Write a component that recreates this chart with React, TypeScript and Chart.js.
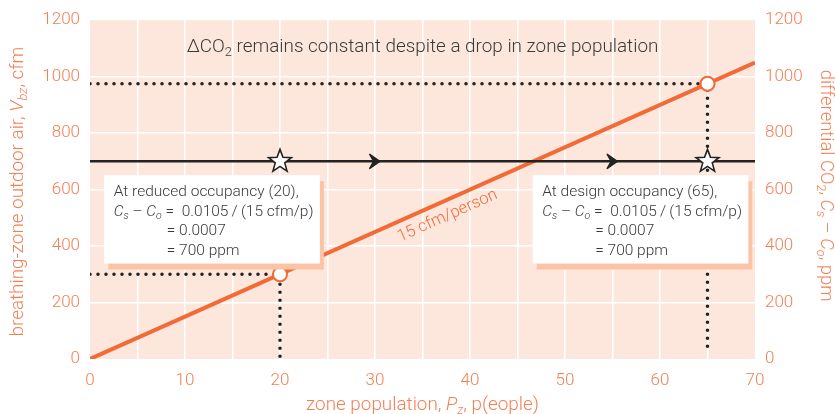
import React, { useEffect, useRef } from 'react';
import { Chart, registerables } from 'chart.js';
Chart.register(...registerables);

// ---------- data ----------
const xTickValues = [0, 10, 20, 30, 40, 50, 60, 70];
const yTickValues = [0, 200, 400, 600, 800, 1000, 1200];
const rateLineX = [0, 70];
const rateLineY = [0, 1050];
const co2LineX = [0, 70];
const co2LineY = [700, 700];
const arrowTipX = [30.5, 55.5];
const starX = [20, 65];
const starY = [700, 700];
const occupancyX = [20, 65];
const airflowY = [300, 975];
const reducedGuideX = [0, 20, 20];
const reducedGuideY = [300, 300, 0];
const designGuideX = [0, 65, 65];
const designGuideY = [975, 975, 30];
const boxTitles = ['At reduced occupancy (20),', 'At design occupancy (65),'];
const boxLeftX = [1.5, 46.6];
const boxRightX = [24.2, 69.3];
const boxTopY = [651, 651];
const boxBottomY = [338, 338];
const rateLabel = '15 cfm/person';
const rateLabelX = 37;
const titleText = ' remains constant despite a drop in zone population';

const ORANGE = '#f26a36';
const TICK = '#f47f55';
const BG = '#fde7dc';
const DARK = '#232323';
const TEXT = '#3a3a3a';
const FONT = 'Roboto';

type Seg = { t: string; it?: boolean; sub?: boolean };

function setFont(ctx: CanvasRenderingContext2D, size: number, s: Seg) {
  const sz = s.sub ? size * 0.68 : size;
  ctx.font = `${s.it ? 'italic ' : ''}300 ${sz}px ${FONT}`;
}
function measureRich(ctx: CanvasRenderingContext2D, segs: Seg[], size: number) {
  let w = 0;
  for (const s of segs) {
    setFont(ctx, size, s);
    w += ctx.measureText(s.t).width;
  }
  return w;
}
function fitSize(ctx: CanvasRenderingContext2D, segs: Seg[], target: number) {
  return (100 * target) / measureRich(ctx, segs, 100);
}
function drawRich(ctx: CanvasRenderingContext2D, segs: Seg[], x: number, y: number, size: number) {
  ctx.textBaseline = 'alphabetic';
  ctx.textAlign = 'left';
  for (const s of segs) {
    setFont(ctx, size, s);
    ctx.fillText(s.t, x, y + (s.sub ? size * 0.22 : 0));
    x += ctx.measureText(s.t).width;
  }
  return x;
}

function drawStar(ctx: CanvasRenderingContext2D, cx: number, cy: number, ro: number, ri: number) {
  ctx.beginPath();
  for (let i = 0; i < 10; i++) {
    const r = i % 2 === 0 ? ro : ri;
    const a = -Math.PI / 2 + (i * Math.PI) / 5;
    const px = cx + r * Math.cos(a);
    const py = cy + r * Math.sin(a);
    if (i === 0) ctx.moveTo(px, py);
    else ctx.lineTo(px, py);
  }
  ctx.closePath();
  ctx.fillStyle = '#fff';
  ctx.fill();
  ctx.lineWidth = 1.6;
  ctx.strokeStyle = DARK;
  ctx.lineJoin = 'miter';
  ctx.stroke();
}

const pts = (xs: number[], ys: number[]) => xs.map((x, i) => ({ x, y: ys[i] }));

const decorPlugin = {
  id: 'decor',
  beforeDraw(chart: any) {
    const { ctx, chartArea: a } = chart;
    ctx.save();
    ctx.fillStyle = BG;
    ctx.fillRect(a.left, a.top, a.right - a.left, a.bottom - a.top);
    ctx.restore();
  },
  afterDatasetsDraw(chart: any) {
    const { ctx } = chart;
    const x = chart.scales.x;
    const y = chart.scales.y;
    ctx.save();

    // arrowheads on the constant CO2 line
    arrowTipX.forEach((ax) => {
      const tx = x.getPixelForValue(ax);
      const ty = y.getPixelForValue(co2LineY[0]);
      ctx.beginPath();
      ctx.moveTo(tx, ty);
      ctx.lineTo(tx - 10, ty - 7);
      ctx.lineTo(tx - 6, ty);
      ctx.lineTo(tx - 10, ty + 7);
      ctx.closePath();
      ctx.fillStyle = DARK;
      ctx.fill();
      ctx.lineWidth = 1.5;
      ctx.strokeStyle = DARK;
      ctx.lineJoin = 'round';
      ctx.stroke();
    });

    // annotation boxes
    const eq: Seg[] = [
      { t: 'C', it: true },
      { t: 's', it: true, sub: true },
      { t: ' \u2013 ' },
      { t: 'C', it: true },
      { t: 'o', it: true, sub: true },
      { t: ' =  0.0105\u2009/\u2009(15 cfm/p)' },
    ];
    boxTitles.forEach((title, i) => {
      const l = x.getPixelForValue(boxLeftX[i]);
      const r = x.getPixelForValue(boxRightX[i]);
      const t = y.getPixelForValue(boxTopY[i]);
      const b = y.getPixelForValue(boxBottomY[i]);
      ctx.fillStyle = '#fbc4a7';
      ctx.fillRect(l + 4, t + 6, r - l, b - t);
      ctx.fillStyle = '#ffffff';
      ctx.fillRect(l, t, r - l, b - t);
      ctx.fillStyle = TEXT;
      const fs = 15.5;
      const tx = l + 9.5;
      drawRich(ctx, [{ t: title }], tx, t + 21, fs);
      drawRich(ctx, eq, tx, t + 40.5, fs);
      drawRich(ctx, [{ t: '= 0.0007' }], tx + 53, t + 60, fs);
      drawRich(ctx, [{ t: '= 700 ppm' }], tx + 53, t + 79.5, fs);
    });

    // stars
    starX.forEach((sx, i) => {
      drawStar(ctx, x.getPixelForValue(sx), y.getPixelForValue(starY[i]), 12, 5);
    });

    // rate label along the line
    const p0x = x.getPixelForValue(rateLineX[0]);
    const p0y = y.getPixelForValue(rateLineY[0]);
    const p1x = x.getPixelForValue(rateLineX[1]);
    const p1y = y.getPixelForValue(rateLineY[1]);
    const ang = Math.atan2(p1y - p0y, p1x - p0x);
    const frac = (rateLabelX - rateLineX[0]) / (rateLineX[1] - rateLineX[0]);
    const lx = p0x + (p1x - p0x) * frac;
    const ly = p0y + (p1y - p0y) * frac;
    ctx.translate(lx, ly);
    ctx.rotate(ang);
    ctx.fillStyle = ORANGE;
    ctx.font = `300 16.5px ${FONT}`;
    ctx.textAlign = 'center';
    ctx.textBaseline = 'middle';
    ctx.fillText(rateLabel, 0, 15);
    ctx.setTransform(1, 0, 0, 1, 0, 0);

    // title inside plot
    const tsegs: Seg[] = [{ t: '\u0394CO' }, { t: '2', sub: true }, { t: titleText }];
    const tfs = fitSize(ctx, tsegs, 472);
    const tw = measureRich(ctx, tsegs, tfs);
    ctx.fillStyle = TEXT;
    drawRich(ctx, tsegs, x.getPixelForValue(35) - tw / 2, y.getPixelForValue(1088), tfs);
    ctx.restore();
  },
  afterDraw(chart: any) {
    const { ctx, chartArea: a } = chart;
    ctx.save();
    ctx.fillStyle = TICK;
    const cy = (a.top + a.bottom) / 2;
    // left title
    const left: Seg[] = [
      { t: 'breathing-zone outdoor air, ' },
      { t: 'V', it: true },
      { t: 'bz', it: true, sub: true },
      { t: ', cfm' },
    ];
    let fs = fitSize(ctx, left, 290);
    let w = measureRich(ctx, left, fs);
    ctx.translate(23, cy + 2);
    ctx.rotate(-Math.PI / 2);
    drawRich(ctx, left, -w / 2, 0, fs);
    ctx.setTransform(1, 0, 0, 1, 0, 0);
    // right title
    const right: Seg[] = [
      { t: 'differential CO' },
      { t: '2', sub: true },
      { t: ', ' },
      { t: 'C', it: true },
      { t: 's', it: true, sub: true },
      { t: ' \u2013 ' },
      { t: 'C', it: true },
      { t: 'o', it: true, sub: true },
      { t: ', ppm' },
    ];
    fs = fitSize(ctx, right, 232);
    w = measureRich(ctx, right, fs);
    ctx.translate(821, cy - 4);
    ctx.rotate(Math.PI / 2);
    drawRich(ctx, right, -w / 2, 0, fs);
    ctx.setTransform(1, 0, 0, 1, 0, 0);
    // bottom title
    const bottom: Seg[] = [
      { t: 'zone population, ' },
      { t: 'P', it: true },
      { t: 'z', it: true, sub: true },
      { t: ', p(eople)' },
    ];
    fs = fitSize(ctx, bottom, 233);
    w = measureRich(ctx, bottom, fs);
    drawRich(ctx, bottom, (a.left + a.right) / 2 - w / 2, 410, fs);
    ctx.restore();
  },
};

export default function App() {
  const ref = useRef<HTMLCanvasElement | null>(null);
  useEffect(() => {
    if (!ref.current) return;
    const tickFont = { family: FONT, size: 17, weight: '300' as any };
    const chart = new Chart(ref.current, {
      type: 'line',
      data: {
        datasets: [
          {
            label: 'design points',
            data: pts(occupancyX, airflowY),
            showLine: false,
            pointRadius: 7,
            pointHoverRadius: 7,
            pointBackgroundColor: '#ffffff',
            pointBorderColor: ORANGE,
            pointBorderWidth: 2,
            order: 0,
          },
          {
            label: 'constant CO2',
            data: pts(co2LineX, co2LineY),
            borderColor: DARK,
            borderWidth: 2.5,
            pointRadius: 0,
            order: 1,
          },
          {
            label: '15 cfm/person',
            data: pts(rateLineX, rateLineY),
            borderColor: ORANGE,
            borderWidth: 4,
            pointRadius: 0,
            order: 2,
          },
          {
            label: 'reduced guide',
            data: pts(reducedGuideX, reducedGuideY),
            borderColor: DARK,
            borderWidth: 3.6,
            borderDash: [0, 8],
            borderCapStyle: 'round',
            pointRadius: 0,
            order: 3,
          },
          {
            label: 'design guide',
            data: pts(designGuideX, designGuideY),
            borderColor: DARK,
            borderWidth: 3.6,
            borderDash: [0, 8],
            borderCapStyle: 'round',
            pointRadius: 0,
            order: 3,
          },
        ],
      },
      options: {
        responsive: false,
        animation: false,
        events: [],
        layout: { padding: { top: 18, left: 0, right: 0, bottom: 0 } },
        plugins: { legend: { display: false }, tooltip: { enabled: false }, title: { display: false } },
        scales: {
          x: {
            type: 'linear',
            min: 0,
            max: 70,
            afterFit: (s: any) => { s.height = 55; },
            afterBuildTicks: (s: any) => {
              const out: any[] = [];
              for (let i = 0; i < xTickValues.length; i++) {
                out.push({ value: xTickValues[i] });
                if (i < xTickValues.length - 1) out.push({ value: (xTickValues[i] + xTickValues[i + 1]) / 2 });
              }
              s.ticks = out;
            },
            ticks: {
              color: TICK,
              font: tickFont,
              padding: 12,
              maxRotation: 0,
              autoSkip: false,
              callback: (v: any) => (xTickValues.includes(v) ? String(v) : ''),
            },
            grid: {
              drawTicks: false,
              lineWidth: 1.6,
              color: (c: any) => (c.tick && (c.tick.value === 0 || c.tick.value === 70) ? 'rgba(0,0,0,0)' : '#ffffff'),
            },
            border: { display: false },
          },
          y: {
            type: 'linear',
            position: 'left',
            min: 0,
            max: 1200,
            afterFit: (s: any) => { s.width = 90; },
            afterBuildTicks: (s: any) => { s.ticks = yTickValues.map((v) => ({ value: v })); },
            ticks: { color: TICK, font: tickFont, padding: 10, callback: (v: any) => String(v) },
            grid: {
              drawTicks: false,
              lineWidth: 1.6,
              color: (c: any) => (c.tick && (c.tick.value === 0 || c.tick.value === 1200) ? 'rgba(0,0,0,0)' : '#ffffff'),
            },
            border: { display: false },
          },
          y2: {
            type: 'linear',
            position: 'right',
            min: 0,
            max: 1200,
            afterFit: (s: any) => { s.width = 80; },
            afterBuildTicks: (s: any) => { s.ticks = yTickValues.map((v) => ({ value: v })); },
            ticks: { color: TICK, font: tickFont, padding: 10, callback: (v: any) => String(v) },
            grid: { display: false, drawTicks: false },
            border: { display: false },
          },
        },
      },
      plugins: [decorPlugin],
    });
    return () => chart.destroy();
  }, []);
  return (
    <div style={{ position: 'absolute', left: 0, top: 0, width: 835, height: 414, background: '#fff' }}>
      <canvas ref={ref} width={835} height={414} style={{ display: 'block' }} />
    </div>
  );
}
